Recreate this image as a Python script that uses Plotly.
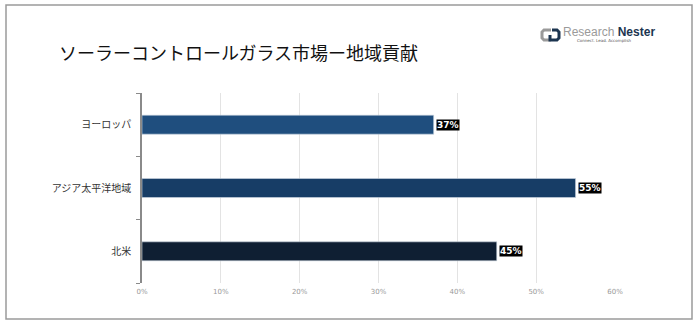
import plotly.graph_objects as go

categories = ["北米", "アジア太平洋地域", "ヨーロッパ"]
values = [0.45, 0.55, 0.37]
bar_colors = ["#0f1f33", "#173d66", "#1f4e7e"]
x_ticks = [0, 0.1, 0.2, 0.3, 0.4, 0.5, 0.6]
x_tick_labels = ["0%", "10%", "20%", "30%", "40%", "50%", "60%"]
title_text = "ソーラーコントロールガラス市場ー地域貢献"

W, H = 473, 190  # plot area size in px
def px(x):
    return (x - 142) / W
def py(y):
    return (283 - y) / H

fig = go.Figure()
fig.add_trace(go.Bar(
    y=categories, x=values, orientation="h",
    marker=dict(color=bar_colors, line=dict(color="#cfd8e3", width=0.6)),
    width=0.3, hoverinfo="skip",
))

for c, v in zip(categories, values):
    fig.add_annotation(
        x=v, y=c, xref="x", yref="y", text=f"<b>{round(v*100)}%</b>",
        showarrow=False, xanchor="left", xshift=2,
        bgcolor="black", borderpad=0,
        font=dict(color="white", size=9, family="DejaVu Sans"),
    )

fig.update_layout(
    width=700, height=328,
    margin=dict(l=142, r=85, t=93, b=45),
    paper_bgcolor="white", plot_bgcolor="white",
    showlegend=False,
    font=dict(family="Noto Sans CJK JP"),
)
fig.update_xaxes(
    range=[0, 0.6], tickvals=x_ticks, ticktext=x_tick_labels,
    showgrid=True, gridcolor="#e3e3e3", gridwidth=1,
    zeroline=False, showline=False,
    tickfont=dict(size=7, color="#999999", family="DejaVu Sans"),
    ticks="", ticklabelstandoff=3,
)
fig.update_yaxes(
    categoryorder="array", categoryarray=categories,
    showline=True, linecolor="#8a8a8a", linewidth=1.5,
    ticks="outside", ticklen=4, tickcolor="#8a8a8a", tickson="boundaries",
    showgrid=False,
    tickfont=dict(size=10, color="#333333", family="Noto Sans CJK JP"),
    ticklabelstandoff=7,
)

# outer frame
fig.add_shape(type="rect", xref="paper", yref="paper",
              x0=px(6), x1=px(692), y0=py(319), y1=py(5),
              line=dict(color="#9a9a9a", width=1.5), layer="below")

# title
fig.add_annotation(text=title_text, xref="paper", yref="paper",
                   x=px(57), y=py(52), xanchor="left", yanchor="middle",
                   showarrow=False, font=dict(size=18, color="#111111", family="Noto Sans CJK JP"))

# logo
fig.add_shape(type="path", xref="paper", yref="paper",
              path=f"M {px(551)} {py(30)} L {px(544)} {py(30)} L {px(542)} {py(32)} L {px(542)} {py(38)} L {px(544)} {py(40)} L {px(551)} {py(40)}",
              line=dict(color="#9a9a9a", width=3))
fig.add_shape(type="path", xref="paper", yref="paper",
              path=f"M {px(550)} {py(35)} L {px(550)} {py(40)} L {px(557)} {py(40)} L {px(559)} {py(38)} L {px(559)} {py(32)} L {px(557)} {py(30)} L {px(552)} {py(30)}",
              line=dict(color="#1c3550", width=3))
fig.add_annotation(text="<span style='color:#9a9a9a'>Research</span> <b><span style='color:#1c3550'>Nester</span></b>",
                   xref="paper", yref="paper", x=px(561), y=py(32),
                   xanchor="left", yanchor="middle", showarrow=False,
                   font=dict(size=12, family="Liberation Sans Narrow, Liberation Sans"))
fig.add_annotation(text="Connect. Lead. Accomplish", xref="paper", yref="paper",
                   x=px(575), y=py(40), xanchor="left", yanchor="middle",
                   showarrow=False, font=dict(size=4, color="#555555", family="DejaVu Sans"))

fig.write_html("out.html")
